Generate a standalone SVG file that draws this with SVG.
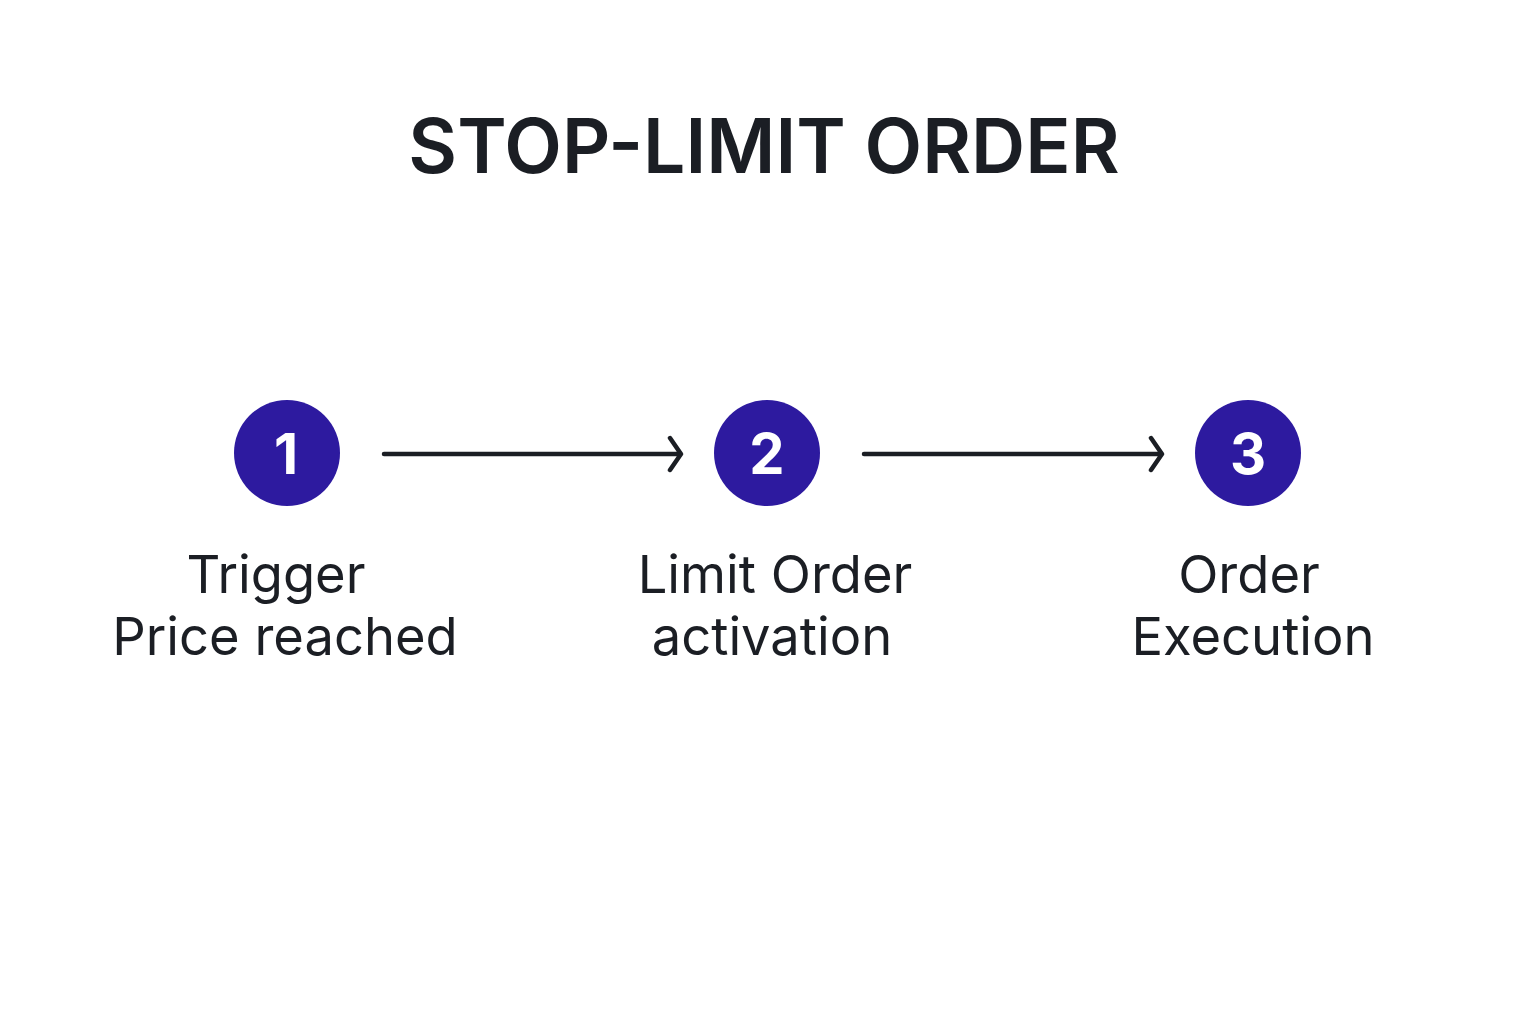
<svg xmlns="http://www.w3.org/2000/svg" width="1536" height="1024" viewBox="0 0 1536 1024">
<style>
.title{font-family:Inter,"Liberation Sans",sans-serif;font-weight:600;font-size:75px;fill:#1b1e24;text-anchor:middle}
.lbl{font-family:Inter,"Liberation Sans",sans-serif;font-weight:400;font-size:52.5px;fill:#1b1e24;text-anchor:middle}
.num{font-family:Inter,"Liberation Sans",sans-serif;font-weight:700;font-size:56px;fill:#ffffff;text-anchor:middle}
.circ{fill:#2d1a9f}
.conn{stroke:#1b1e24;stroke-width:4.5;fill:none;stroke-linecap:round;stroke-linejoin:round}
</style>
<rect width="1536" height="1024" fill="#ffffff"/>
<text class="title" x="764" y="173">STOP-LIMIT ORDER</text>
<g id="connectors">
<path class="conn" d="M384 454 H680 M670 438 L681 454 L670 470"/>
<path class="conn" d="M864 454 H1161 M1151 438 L1162 454 L1151 470"/>
</g>
<g id="node1">
<circle class="circ" cx="287" cy="453" r="53"/>
<text class="num" x="286" y="474">1</text>
<text class="lbl" x="276" y="593">Trigger</text>
<text class="lbl" x="285" y="655">Price reached</text>
</g>
<g id="node2">
<circle class="circ" cx="767" cy="453" r="53"/>
<text class="num" x="767" y="474">2</text>
<text class="lbl" x="775" y="593">Limit Order</text>
<text class="lbl" x="772" y="655">activation</text>
</g>
<g id="node3">
<circle class="circ" cx="1248" cy="453" r="53"/>
<text class="num" x="1248" y="474">3</text>
<text class="lbl" x="1249" y="593">Order</text>
<text class="lbl" x="1253" y="655">Execution</text>
</g>
</svg>
